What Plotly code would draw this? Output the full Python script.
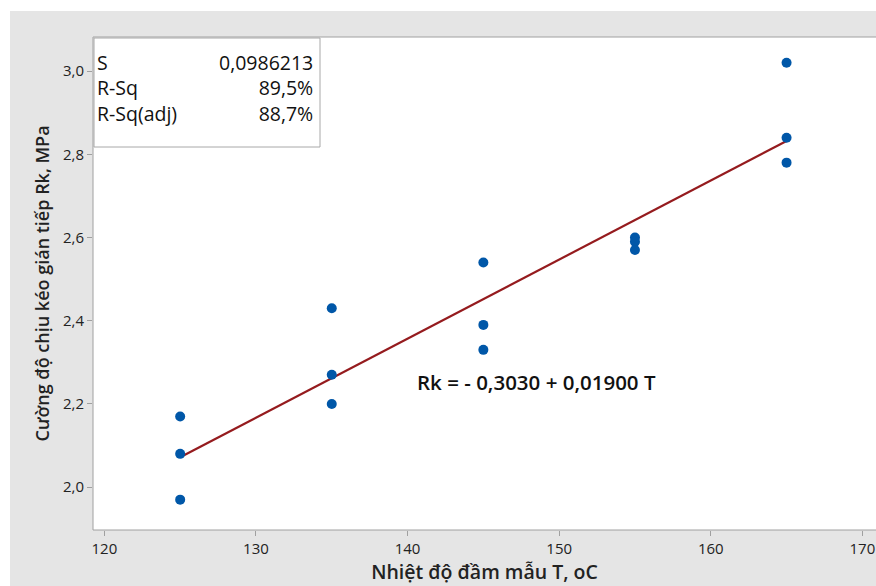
import plotly.graph_objects as go

# Data
temp = [125, 125, 125, 135, 135, 135, 145, 145, 145, 155, 155, 155, 165, 165, 165]
rk = [2.17, 2.08, 1.97, 2.43, 2.27, 2.20, 2.54, 2.39, 2.33, 2.60, 2.59, 2.57, 3.02, 2.84, 2.78]
b0 = -0.3030
b1 = 0.01900
fit_x = [125, 165]
fit_y = [b0 + b1 * t for t in fit_x]
stat_names = ["S", "R-Sq", "R-Sq(adj)"]
stat_values = ["0,0986213", "89,5%", "88,7%"]
x_ticks = [120, 130, 140, 150, 160, 170]
y_ticks = [2.0, 2.2, 2.4, 2.6, 2.8, 3.0]

FONT = "Open Sans"
W, H = 876, 586
L, R, T, B = 93, 0, 37, 56
pw, ph = W - L - R, H - T - B

def px(x):  # page pixel -> paper x
    return (x - L) / pw

def py(y):  # page pixel -> paper y
    return (H - B - y) / ph

fig = go.Figure()
fig.add_trace(go.Scatter(x=fit_x, y=fit_y, mode="lines",
                         line=dict(color="#951B1E", width=2.2), hoverinfo="skip"))
fig.add_trace(go.Scatter(x=temp, y=rk, mode="markers",
                         marker=dict(color="#0057A8", size=10)))

shapes = [
    dict(type="rect", xref="paper", yref="paper", x0=px(10), x1=px(W + 5), y0=py(H + 5), y1=py(11),
         fillcolor="#E5E5E5", line=dict(width=0), layer="below"),
    dict(type="rect", xref="paper", yref="paper", x0=0, x1=1.01, y0=0, y1=1,
         fillcolor="white", line=dict(color="#A0A0A0", width=1), layer="below"),
    dict(type="rect", xref="paper", yref="paper", x0=px(94), x1=px(320), y0=py(147), y1=py(38),
         fillcolor="rgba(0,0,0,0)", line=dict(color="#A8A8A8", width=1)),
]

stat_font = dict(family=FONT, size=19.5, color="#111", weight=500)
annotations = [
    dict(x=px(95), y=py(47), xref="paper", yref="paper", text="<br>".join(stat_names),
         showarrow=False, xanchor="left", yanchor="top", align="left", font=stat_font),
    dict(x=px(315), y=py(47), xref="paper", yref="paper", text="<br>".join(stat_values),
         showarrow=False, xanchor="right", yanchor="top", align="right", font=stat_font),
    dict(x=px(536), y=py(382), xref="paper", yref="paper",
         text="Rk = - 0,3030 + 0,01900 T", showarrow=False,
         xanchor="center", yanchor="middle",
         font=dict(family=FONT, size=20.5, color="#111", weight=600)),
]

fig.update_layout(
    width=W, height=H,
    margin=dict(l=L, r=R, t=T, b=B, pad=0),
    paper_bgcolor="white", plot_bgcolor="rgba(0,0,0,0)",
    showlegend=False, separators=",.",
    shapes=shapes, annotations=annotations,
    font=dict(family=FONT, color="#222"),
)
fig.update_xaxes(range=[119.25, 170.9], tickvals=x_ticks, ticks="outside", ticklen=5,
                 tickcolor="#A0A0A0", showgrid=False, zeroline=False, showline=False,
                 ticklabeloverflow="allow",
                 tickfont=dict(family=FONT, size=15, color="#222"),
                 title=dict(text="Nhiệt độ đầm mẫu T, oC", standoff=4,
                            font=dict(family=FONT, size=19.5, color="#222", weight=600)))
fig.update_yaxes(range=[1.897, 3.082], tickvals=y_ticks, tickformat=".1f", ticks="outside", ticklen=5,
                 tickcolor="#A0A0A0", showgrid=False, zeroline=False, showline=False,
                 tickfont=dict(family=FONT, size=15, color="#222"),
                 title=dict(text="Cường độ chịu kéo gián tiếp Rk, MPa", standoff=8,
                            font=dict(family=FONT, size=18, color="#222", weight=600)))

fig.write_html("out.html", config={"displayModeBar": False},
               post_script="document.body.style.margin='0';document.body.style.overflow='hidden';")
